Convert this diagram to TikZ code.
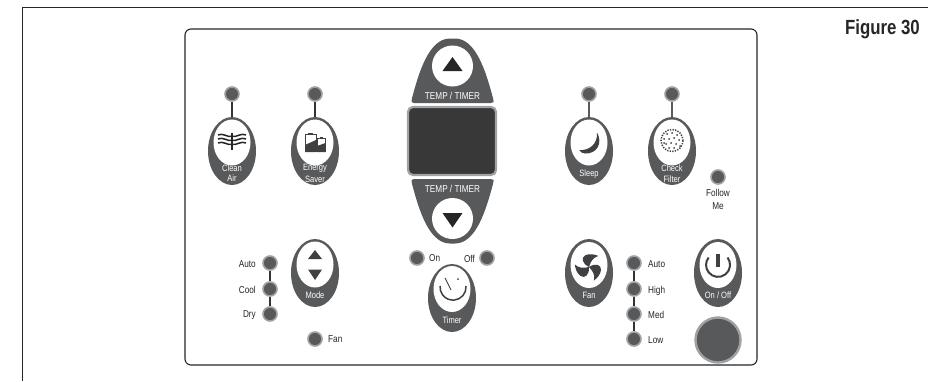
\documentclass[tikz,border=0pt]{standalone}
\usepackage{fontspec}
\setmainfont{Liberation Sans}[FakeStretch=0.82]
\usetikzlibrary{shapes.geometric}
\definecolor{dk}{HTML}{58595B}
\definecolor{ring}{HTML}{A0A1A3}
\definecolor{ic}{HTML}{404042}
\tikzset{
  oval/.style={ellipse,fill=dk,draw=none,minimum width=48pt,minimum height=68pt,inner sep=0pt},
  win/.style={ellipse,fill=white,draw=none,minimum width=37pt,minimum height=46pt,inner sep=0pt},
  led/.style={circle,fill=dk,draw=ring,line width=1.6pt,minimum size=14pt,inner sep=0pt},
  stem/.style={draw=black!80,line width=2.6pt},
  wt/.style={text=white,font=\fontsize{9.2}{10}\selectfont,inner sep=0pt},
  bk/.style={text=black!85,font=\fontsize{10}{11}\selectfont,inner sep=0pt},
  lblr/.style={bk,anchor=east},
  lbll/.style={bk,anchor=west},
  iconl/.style={draw=ic,line width=1pt,fill=none}
}
\newcommand{\btn}[4]{% name, x, ytop, win-y
  \node[oval] (#1) at (#2,#3+34) {};
  \node[win] (#1w) at (#2,#4) {};
}
\begin{document}
\begin{tikzpicture}[x=1pt,y=-1pt]
\useasboundingbox (0,0) rectangle (928,381);
\fill[white] (0,0) rectangle (928,381);
% outer frame
\coordinate (fa) at (22,381);
\coordinate (fb) at (22,7.5);
\coordinate (fc) at (928,7.5);
\draw[black!85,line width=1pt] (fa) -- (fb) -- (fc);
\node[font=\bfseries\fontsize{20.5}{21}\selectfont,text=black!85,anchor=east,inner sep=0pt] (fig) at (920,29) {Figure 30};
% panel
\node[draw=black!85,line width=1.1pt,rounded corners=6pt,minimum width=572pt,minimum height=336pt,inner sep=0pt] (panel) at (471,197) {};

% top row buttons
\btn{clean}{232}{117}{142.5}
\btn{energy}{315}{117}{142.5}
\btn{sleep}{589}{117}{142.5}
\btn{check}{672}{117}{142.5}
\node[led] (lclean) at (232,94) {};
\node[led] (lenergy) at (315,94) {};
\node[led] (lsleep) at (589,94) {};
\node[led] (lcheck) at (672,94) {};
\draw[stem] (lclean) -- (clean);
\draw[stem] (lenergy) -- (energy);
\draw[stem,draw=dk] (lsleep) -- (sleep);
\draw[stem,draw=dk] (lcheck) -- (check);
\node[wt] (t1) at (232,168) {Clean};
\node[wt] (t2) at (232,178.5) {Air};
\node[wt] (t3) at (315,168.5) {Energy};
\node[wt] (t4) at (315,179) {Saver};
\node[wt] (t5) at (589,174.5) {Sleep};
\node[wt] (t6) at (672,168) {Check};
\node[wt] (t7) at (672,179) {Filter};
% clean air icon
\foreach \y in {135,139,143}{
  \draw[black!85,line width=1.5pt] (218,\y) .. controls (223,\y-2.5) and (227,\y+2.5) .. (232,\y+1.5) .. controls (237,\y+2.5) and (241,\y-2.5) .. (246,\y);
}
\draw[black!85,line width=1.3pt] (232,133) -- (232,150);
% energy icon
\draw[iconl] (305.5,152) -- (305.5,134.5) -- (316,134.5) -- (316,152);
\fill[ic] (308,133) rectangle (313,134.5);
\fill[ic] (305,152) -- (305,145) -- (316,140) -- (316,152) -- cycle;
\draw[iconl] (317.5,152) -- (317.5,138.5) -- (325,138.5) -- (325,152);
\fill[ic] (319.5,137) rectangle (323,138.5);
\fill[ic] (317,152) -- (317,146) -- (325.5,143) -- (325.5,152) -- cycle;
% moon
\fill[ic] (597,132.5) .. controls (603,143) and (597,154) .. (585,153.5) .. controls (583,153.5) and (580,152) .. (579,150) .. controls (589,151) and (598,144) .. (597,132.5) -- cycle;
% filter
\draw[ic,line width=1.5pt,dash pattern=on 1.3pt off 1.3pt] (672,140.5) circle[radius=11];
\foreach \a/\b in {667/134,672/133,677/135,664/139,669/139,674/138,679/140,666/144,671/143,676/144,669/148,674/148,680/146,664/143}{
  \fill[ic] (\a,\b) circle[radius=1];
}
% follow me
\node[led] (lfollow) at (718,177) {};
\node[bk] (t8) at (718,193) {Follow};
\node[bk] (t9) at (718,206) {Me};

% temp up
\fill[dk,rounded corners=2.5pt] (411.5,103) -- (493.5,103) -- (493.5,100) .. controls (486,72) and (476,38.5) .. (452.5,38.5) .. controls (429,38.5) and (419,72) .. (411.5,100) -- cycle;
\node[circle,fill=white,minimum size=41pt,inner sep=0pt] (upw) at (452.5,66) {};
\node[wt,font=\fontsize{10}{11}\selectfont] (t10) at (452.5,96) {TEMP / TIMER};
\fill[black!85] (452.5,57) -- (462.5,71) -- (442.5,71) -- cycle;
% display
\node[draw=ring,fill=black!78,line width=2.2pt,rounded corners=5pt,minimum width=88pt,minimum height=68pt,inner sep=0pt] (disp) at (452,141) {};
% temp down
\fill[dk,rounded corners=2.5pt] (411.5,179) -- (493.5,179) -- (493.5,182) .. controls (486,210) and (476,243.5) .. (452.5,243.5) .. controls (429,243.5) and (419,210) .. (411.5,182) -- cycle;
\node[circle,fill=white,minimum size=41pt,inner sep=0pt] (dnw) at (452.5,218.5) {};
\node[wt,font=\fontsize{10}{11}\selectfont] (t11) at (452.5,188.5) {TEMP / TIMER};
\fill[black!85] (452.5,227.5) -- (462.5,213) -- (442.5,213) -- cycle;

% mode
\btn{mode}{315}{239}{264.5}
\fill[ic] (315,250) -- (322,259) -- (308,259) -- cycle;
\fill[ic] (315,280) -- (322,269.5) -- (308,269.5) -- cycle;
\node[wt] (t12) at (315,295) {Mode};
\node[led] (m1) at (270,263) {};
\node[led] (m2) at (270,289) {};
\node[led] (m3) at (270,314) {};
\draw[stem] (m1) -- (m2);
\draw[stem] (m2) -- (m3);
\node[lblr] (t13) at (256,264) {Auto};
\node[lblr] (t14) at (256,290) {Cool};
\node[lblr] (t15) at (256,315) {Dry};
\node[led] (lfan) at (315,339) {};
\node[lbll] (t16) at (328,339.5) {Fan};

% timer
\btn{timer}{452}{264}{289}
\node[led] (lon) at (417,258) {};
\node[led] (loff) at (487,258) {};
\node[lbll] (t17) at (429,258.5) {On};
\node[lblr] (t18) at (475,258.5) {Off};
\node[wt] (t19) at (452,320) {Timer};
\draw[ic,line width=1.5pt] (466,286) arc[start angle=-5,end angle=185,radius=13];
\draw[ic,line width=0.9pt] (445,278) -- (451,290);
\fill[ic] (458,279) circle[radius=1];

% fan
\btn{fan}{589}{239}{265}
\foreach \a in {0,120,240}{
  \begin{scope}[shift={(589,267)},rotate=\a,scale=0.85]
    \fill[ic] (0,0) .. controls (-8,-4) and (-10,-11) .. (-4,-14) .. controls (1,-16) and (6,-15) .. (11,-13) .. controls (4,-11) and (2,-6) .. (0,0) -- cycle;
  \end{scope}
}
\node[wt] (t20) at (589,295) {Fan};
\node[led] (f1) at (634,263) {};
\node[led] (f2) at (634,289) {};
\node[led] (f3) at (634,314) {};
\node[led] (f4) at (634,339) {};
\draw[stem] (f1) -- (f2);
\draw[stem] (f2) -- (f3);
\draw[stem] (f3) -- (f4);
\node[lbll] (t21) at (648,264.5) {Auto};
\node[lbll] (t22) at (648,290.5) {High};
\node[lbll] (t23) at (648,315) {Med};
\node[lbll] (t24) at (648,340) {Low};

% on/off
\btn{onoff}{718}{239}{265}
\draw[ic,line width=2pt] (727.5,257.5) arc[start angle=-38,end angle=218,radius=12];
\draw[ic,line width=4pt] (718,254) -- (718,267);
\node[wt] (t25) at (718,295.5) {On / Off};
\node[circle,fill=dk,draw=ring,line width=2.4pt,minimum size=45pt,inner sep=0pt] (big) at (718,340) {};
\end{tikzpicture}
\end{document}
